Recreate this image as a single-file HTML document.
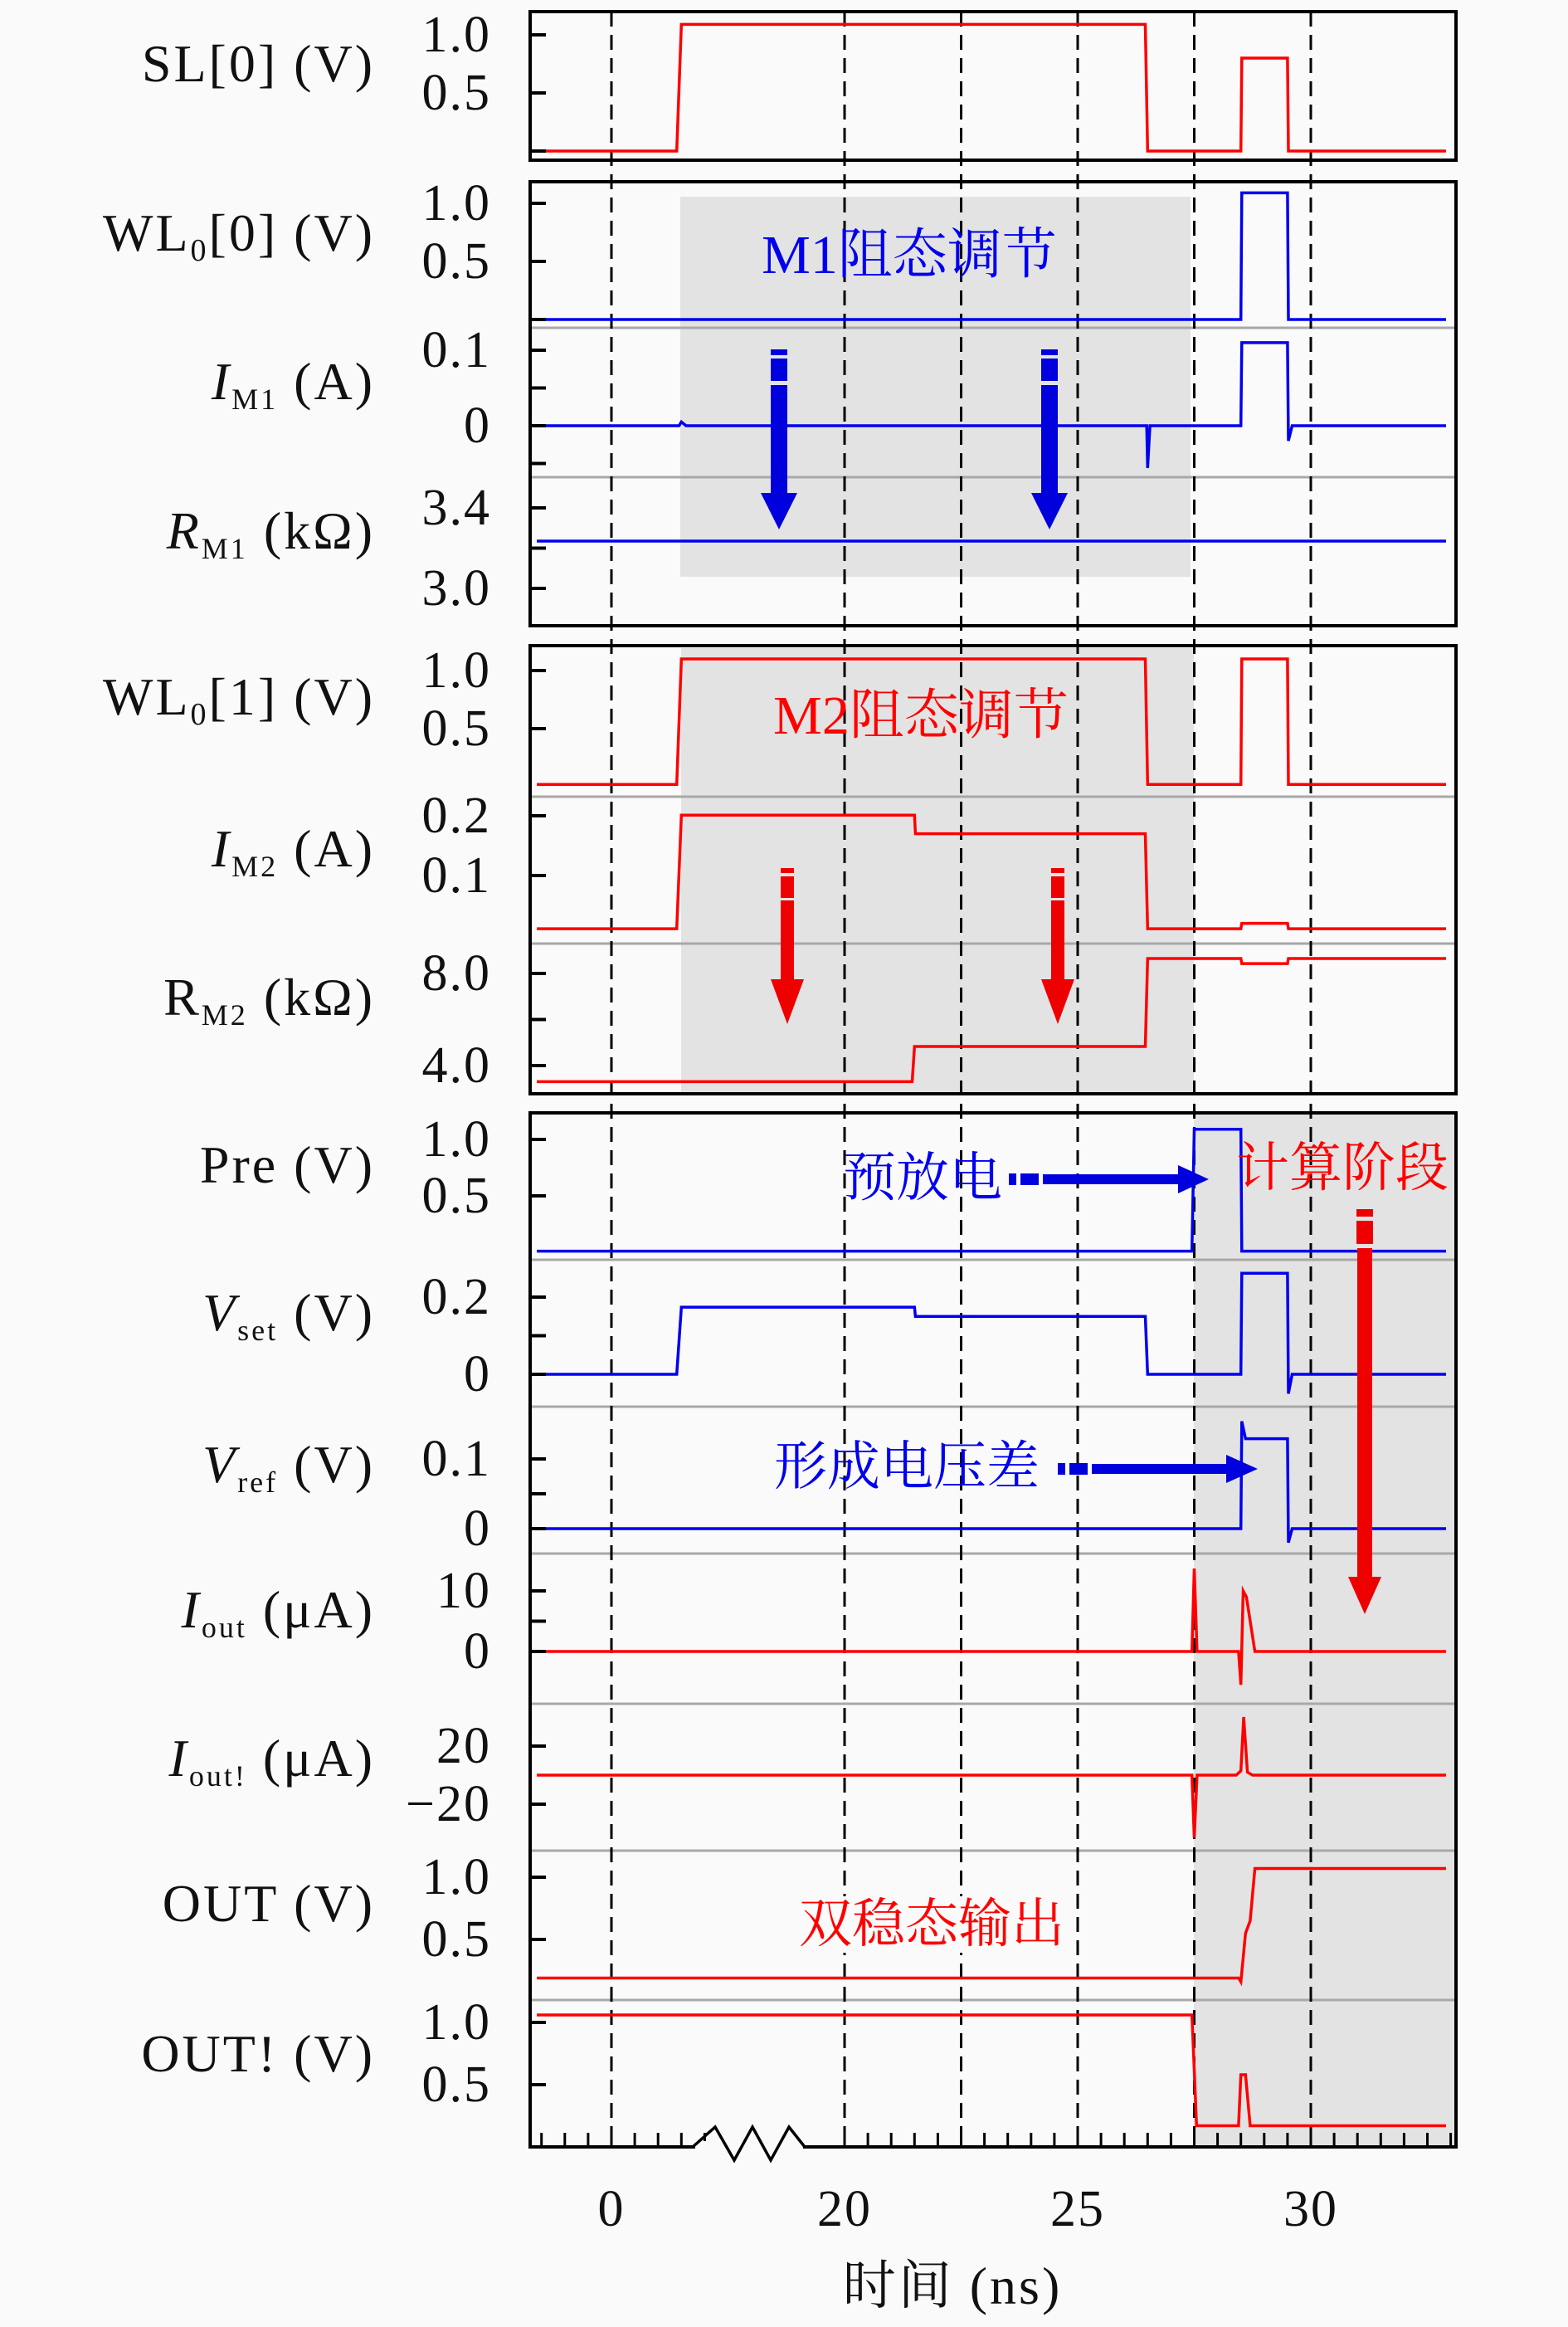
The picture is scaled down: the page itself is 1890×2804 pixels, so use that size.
<!DOCTYPE html>
<html><head><meta charset="utf-8">
<style>
html,body{margin:0;padding:0;background:#fafafa;}
svg{display:block;}
text{font-family:"Liberation Serif","Noto Serif CJK SC",serif;}
.cjk{font-family:"Liberation Serif","Noto Serif CJK SC","Noto Sans CJK SC",serif;}
</style></head>
<body>
<svg id="chart" width="1890" height="2804" viewBox="0 0 1890 2804" xmlns="http://www.w3.org/2000/svg">
<rect x="0" y="0" width="1890" height="2804" fill="#fafafa"/>
<g id="shades"></g>
<g id="seps"></g>
<g id="grid"></g>
<g id="series"></g>
<g id="frames"></g>
<g id="annot"></g>
<g id="labels"></g>
</svg>
<script>
// ---- data ----
const xTickLabels = ["0","20","25","30"];
const xTickTimes = [0,20,25,30];
const dashTimes = [0,20,22.5,25,27.5,30];

const slT = [-1.6,1.4,1.5,26.45,26.5,28.5,28.52,29.5,29.52,32.9];
const slV = [0,0,1.09,1.09,0,0,0.8,0.8,0,0];
const wl00T = [-1.6,28.5,28.52,29.5,29.52,32.9];
const wl00V = [0,0,1.09,1.09,0,0];
const im1T = [-1.6,1.45,1.5,1.6,26.48,26.5,26.55,28.5,28.52,29.5,29.52,29.6,32.9];
const im1V = [0,0,0.005,0,0,-0.056,0,0,0.11,0.11,-0.02,0,0];
const rm1T = [-1.6,32.9];
const rm1V = [3.235,3.235];
const wl01T = [-1.6,1.4,1.5,26.45,26.5,28.5,28.52,29.5,29.52,32.9];
const wl01V = [0.02,0.02,1.1,1.1,0.02,0.02,1.1,1.1,0.02,0.02];
const im2T = [-1.6,1.4,1.5,21.5,21.52,26.45,26.5,28.5,28.52,29.5,29.52,32.9];
const im2V = [0.011,0.011,0.201,0.201,0.17,0.17,0.011,0.011,0.02,0.02,0.011,0.011];
const rm2T = [-1.6,21.45,21.5,26.45,26.5,28.5,28.52,29.5,29.52,32.9];
const rm2V = [3.3,3.3,4.83,4.83,8.65,8.65,8.43,8.43,8.65,8.65];
const preT = [-1.6,27.45,27.5,28.5,28.52,32.9];
const preV = [0.01,0.01,1.09,1.09,0.01,0.01];
const vsetT = [-1.6,1.4,1.5,21.5,21.52,26.45,26.5,28.5,28.52,29.5,29.52,29.6,32.9];
const vsetV = [0,0,0.174,0.174,0.15,0.15,0,0,0.262,0.262,-0.05,0,0];
const vrefT = [-1.6,28.5,28.52,28.6,29.5,29.52,29.6,32.9];
const vrefV = [0,0,0.154,0.129,0.129,-0.02,0,0];
const ioutT = [-1.6,27.45,27.5,27.56,28.45,28.5,28.55,28.62,28.8,28.9,32.9];
const ioutV = [0,0,13.7,0,0,-5.5,10,9,0,0,0];
const ioutbT = [-1.6,27.45,27.5,27.56,28.4,28.5,28.56,28.64,28.75,32.9];
const ioutbV = [0,0,-43,0,0,3,40,2,0,0];
const outT = [-1.6,28.45,28.5,28.6,28.7,28.8,32.9];
const outV = [0.19,0.19,0.16,0.55,0.65,1.07,1.07];
const outbT = [-1.6,27.45,27.55,28.45,28.5,28.6,28.7,32.9];
const outbV = [1.06,1.06,0.17,0.17,0.58,0.58,0.17,0.17];

// ---- layout helpers ----
const NS="http://www.w3.org/2000/svg";
function X(t){ return t<10 ? 737+56.2*t : 1018+56.2*(t-20); }
function mkY(v0,p0,v1,p1){ return v=> p0+(v-v0)*(p1-p0)/(v1-v0); }
function el(tag,attrs,parent){ const e=document.createElementNS(NS,tag); for(const k in attrs) e.setAttribute(k,attrs[k]); document.getElementById(parent).appendChild(e); return e; }

const L=639, R=1755;
const panels=[[14,193],[219,754],[778,1318],[1341,2587]];

let s;
s=el('rect',{x:820,y:237,width:615,height:458,fill:'#e3e3e3'},'shades');
 
s=el('rect',{x:821,y:781,width:618,height:537,fill:'#e3e3e3'},'shades');
 
s=el('rect',{x:1439,y:1341,width:316,height:1246,fill:'#e3e3e3'},'shades');
 

[395,575,960,1137,1518,1695,1872,2053,2230,2410].forEach(y=>{
  const e=el('line',{x1:L,x2:R,y1:y,y2:y,stroke:'#a8a8a8','stroke-width':3},'seps');
  
  
});

dashTimes.forEach(t=>{
  const e=el('line',{x1:X(t),x2:X(t),y1:14,y2:2587,stroke:'#000','stroke-width':3,'stroke-dasharray':'18,10'},'grid');
  
  
});

const subplots=[
 {name:'sl0',T:slT,V:slV,y:mkY(0,182,1,42),c:'#ff0000',ticks:[[1,'1.0'],[0.5,'0.5'],[0,'']]},
 {name:'wl0-0',T:wl00T,V:wl00V,y:mkY(0,385,1,245),c:'#0000ee',ticks:[[1,'1.0'],[0.5,'0.5'],[0,'']]},
 {name:'i-m1',T:im1T,V:im1V,y:mkY(0,513,0.1,422),c:'#0000ee',ticks:[[0.1,'0.1'],[0.05,''],[0,'0'],[-0.05,'']]},
 {name:'r-m1',T:rm1T,V:rm1V,y:mkY(3.0,709,3.4,612),c:'#0000ee',ticks:[[3.4,'3.4'],[3.2,''],[3.0,'3.0']]},
 {name:'wl0-1',T:wl01T,V:wl01V,y:mkY(0,948,1,808),c:'#ff0000',ticks:[[1,'1.0'],[0.5,'0.5']]},
 {name:'i-m2',T:im2T,V:im2V,y:mkY(0,1127,0.2,983),c:'#ff0000',ticks:[[0.2,'0.2'],[0.1,'0.1']]},
 {name:'r-m2',T:rm2T,V:rm2V,y:mkY(4,1284,8,1173),c:'#ff0000',ticks:[[8,'8.0'],[6,''],[4,'4.0']]},
 {name:'pre',T:preT,V:preV,y:mkY(0,1509,1,1373),c:'#0000ee',ticks:[[1,'1.0'],[0.5,'0.5']]},
 {name:'v-set',T:vsetT,V:vsetV,y:mkY(0,1656,0.2,1563),c:'#0000ee',ticks:[[0.2,'0.2'],[0.1,''],[0,'0']]},
 {name:'v-ref',T:vrefT,V:vrefV,y:mkY(0,1842,0.1,1758),c:'#0000ee',ticks:[[0.1,'0.1'],[0.05,''],[0,'0']]},
 {name:'i-out',T:ioutT,V:ioutV,y:mkY(0,1990,10,1917),c:'#ff0000',ticks:[[10,'10'],[5,''],[0,'0']]},
 {name:'i-out-bar',T:ioutbT,V:ioutbV,y:mkY(-20,2174,20,2104),c:'#ff0000',ticks:[[20,'20'],[-20,'\u221220']]},
 {name:'out',T:outT,V:outV,y:mkY(0.5,2337,1,2262),c:'#ff0000',ticks:[[1,'1.0'],[0.5,'0.5']]},
 {name:'out-bar',T:outbT,V:outbV,y:mkY(0.5,2512,1,2437),c:'#ff0000',ticks:[[1,'1.0'],[0.5,'0.5']]}
];
subplots.forEach(sp=>{
  const pts=sp.T.map((t,i)=>X(t).toFixed(1)+','+sp.y(sp.V[i]).toFixed(1)).join(' ');
  const p=el('polyline',{points:pts,fill:'none',stroke:sp.c,'stroke-width':3.5,'stroke-linejoin':'miter'},'series');
  
  
  sp.ticks.forEach(tk=>{
    const yy=sp.y(tk[0]);
    const m=el('line',{x1:L,x2:L+19,y1:yy,y2:yy,stroke:'#000','stroke-width':4},'frames');
    
    
    if(tk[1]){
      const tx=el('text',{x:592,y:yy+20,'font-size':62,'letter-spacing':2,'text-anchor':'end',fill:'#111'},'labels');
      tx.textContent=tk[1];
      
      
    }
  });
});

panels.forEach((p,i)=>{
  const r=el('rect',{x:L,y:p[0],width:R-L,height:p[1]-p[0],fill:'none',stroke:'#000','stroke-width':4},'frames');
  
  
});

for(let t=-1.5;t<=33.01;t+=0.5){
  if(t>2.01 && t<19.99) continue;
  const xx=X(t);
  const tk=el('line',{x1:xx,x2:xx,y1:2587,y2:2570,stroke:'#000','stroke-width':3},'frames');
  
  
}
xTickTimes.forEach((t,i)=>{
  const tx=el('text',{x:X(t),y:2682,'font-size':62,'letter-spacing':2,'text-anchor':'middle',fill:'#111'},'labels');
  tx.textContent=xTickLabels[i];
  
  
});
</script>
<script>
const svg=document.getElementById('chart');
const extra=`
<g>
<rect x="838" y="2580" width="130" height="14" fill="#fafafa"/>
<polyline points="835,2587 862,2563 885,2603 907,2563 929,2603 951,2563 970,2587" fill="none" stroke="#000" stroke-width="3.5"/>
</g>
<g font-size="64" letter-spacing="3" fill="#111" text-anchor="end">
<text x="452" y="98">SL[0]  (V)</text>
<text x="452" y="302">WL<tspan font-size="38" dy="12">0</tspan><tspan dy="-12">[0]  (V)</tspan></text>
<text x="452" y="481"><tspan font-style="italic">I</tspan><tspan font-size="36" dy="12">M1</tspan><tspan dy="-12"> (A)</tspan></text>
<text x="452" y="661"><tspan font-style="italic">R</tspan><tspan font-size="36" dy="12">M1</tspan><tspan dy="-12"> (kΩ)</tspan></text>
<text x="452" y="861">WL<tspan font-size="38" dy="12">0</tspan><tspan dy="-12">[1]  (V)</tspan></text>
<text x="452" y="1044"><tspan font-style="italic">I</tspan><tspan font-size="36" dy="12">M2</tspan><tspan dy="-12">  (A)</tspan></text>
<text x="452" y="1223">R<tspan font-size="36" dy="12">M2</tspan><tspan dy="-12">  (kΩ)</tspan></text>
<text x="452" y="1425">Pre  (V)</text>
<text x="452" y="1603"><tspan font-style="italic">V</tspan><tspan font-size="36" dy="12">set</tspan><tspan dy="-12">  (V)</tspan></text>
<text x="452" y="1786"><tspan font-style="italic">V</tspan><tspan font-size="36" dy="12">ref</tspan><tspan dy="-12">  (V)</tspan></text>
<text x="452" y="1961"><tspan font-style="italic">I</tspan><tspan font-size="36" dy="12">out</tspan><tspan dy="-12">  (μA)</tspan></text>
<text x="452" y="2140"><tspan font-style="italic">I</tspan><tspan font-size="36" dy="12">out!</tspan><tspan dy="-12"> (μA)</tspan></text>
<text x="452" y="2315">OUT  (V)</text>
<text x="452" y="2496">OUT!  (V)</text>
</g>
<text x="1148" y="2776" font-size="64" letter-spacing="3" text-anchor="middle" fill="#111" class="cjk">时间 (ns)</text>
<g class="cjk">
<text x="1096" y="329" font-size="66" text-anchor="middle" fill="#0000ee">M1阻态调节</text>
<text x="1110" y="884" font-size="66" text-anchor="middle" fill="#ff0000">M2阻态调节</text>
<text x="1016" y="1441" font-size="64" fill="#0000ee">预放电</text>
<text x="1490" y="1429" font-size="64" fill="#ff0000">计算阶段</text>
<text x="933" y="1789" font-size="64" fill="#0000ee">形成电压差</text>
<rect x="955" y="2285" width="335" height="68" fill="#fafafa"/>
<text x="1123" y="2340" font-size="64" text-anchor="middle" fill="#ff0000">双稳态输出</text>
</g>
<g fill="#0000dd">
<rect x="929" y="421" width="20" height="7"/><rect x="929" y="432" width="20" height="27"/><rect x="929" y="464" width="20" height="132"/><polygon points="917,594 961,594 939,638"/>
</g>
<g fill="#0000dd">
<rect x="1255" y="421" width="20" height="7"/><rect x="1255" y="432" width="20" height="27"/><rect x="1255" y="464" width="20" height="132"/><polygon points="1243,594 1287,594 1265,638"/>
</g>
<g fill="#ee0000">
<rect x="941" y="1046" width="16" height="6"/><rect x="941" y="1056" width="16" height="26"/><rect x="941" y="1085" width="16" height="97"/><polygon points="929,1180 969,1180 949,1234"/>
</g>
<g fill="#ee0000">
<rect x="1267" y="1046" width="16" height="6"/><rect x="1267" y="1056" width="16" height="26"/><rect x="1267" y="1085" width="16" height="97"/><polygon points="1255,1180 1295,1180 1275,1234"/>
</g>
<g fill="#0000dd">
<rect x="1216" y="1414" width="9" height="14"/><rect x="1230" y="1414" width="22" height="14"/><rect x="1257" y="1415" width="165" height="12"/><polygon points="1420,1404 1457,1421 1420,1438"/>
</g>
<g fill="#0000dd">
<rect x="1275" y="1763" width="9" height="14"/><rect x="1289" y="1763" width="22" height="14"/><rect x="1316" y="1764" width="164" height="12"/><polygon points="1478,1753 1516,1770 1478,1787"/>
</g>
<g fill="#ee0000">
<rect x="1635" y="1457" width="20" height="9"/><rect x="1635" y="1471" width="20" height="28"/><rect x="1636" y="1504" width="18" height="398"/><polygon points="1625,1900 1665,1900 1645,1945"/>
</g>`;
svg.insertAdjacentHTML('beforeend', extra);
</script>
</body></html>
